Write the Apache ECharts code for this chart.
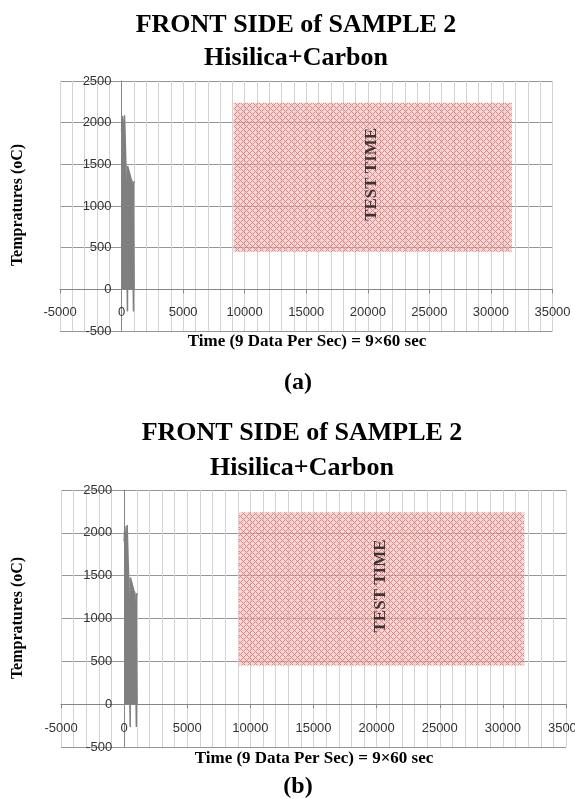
<!DOCTYPE html>
<html>
<head>
<meta charset="utf-8">
<script src="https://cdn.jsdelivr.net/npm/echarts@6/dist/echarts.min.js"></script>
<style>
  html, body { margin: 0; padding: 0; background: #fff; }
  #chart { width: 575px; height: 799px; }
</style>
</head>
<body>
<div id="chart"></div>
<script>
  // readings (time index, temperature in oC)
  const timeIdx = [0, 50, 60, 110, 120, 230, 240, 330, 350, 470, 480, 490, 560, 600, 680, 760, 850, 960, 970, 980, 1080];
  const temps = [1900, 1900, 2080, 2080, 1850, 1860, 2090, 2090, 1500, 1490, -266, 1480, 1480, 1420, 1400, 1330, 1300, 1290, -266, 1290, 1280];
  // axis ranges: min, max, step
  const xRange = [-5000, 35000, 5000];
  const yRange = [-500, 2500, 500];
  // test time box corners and its label position
  const testTimeBox = [[9100, 450], [31700, 2240]];
  const testTimeLabel = [20300, 1380];

  const titleText = 'FRONT SIDE of SAMPLE 2\nHisilica+Carbon';
  const xName = 'Time (9 Data Per Sec) = 9\u00d760 sec';
  const yName = 'Tempratures (oC)';
  const captions = ['(a)', '(b)'];

  const serif = '"Liberation Serif", "DejaVu Serif", serif';
  const sans = '"Liberation Sans", Arial, sans-serif';

  function makePattern() {
    const c = document.createElement('canvas');
    c.width = 6; c.height = 6;
    const ctx = c.getContext('2d');
    ctx.fillStyle = 'rgba(238,178,178,0.55)';
    ctx.fillRect(0, 0, 6, 6);
    ctx.fillStyle = 'rgba(214,80,80,0.6)';
    for (let x = 0; x < 6; x++) {
      for (let y = 0; y < 6; y++) {
        if ((x + y) % 6 === 0 || (x - y + 6) % 6 === 0) ctx.fillRect(x, y, 1, 1);
      }
    }
    return c;
  }
  const pattern = { image: makePattern(), repeat: 'repeat' };

  // panel layouts (pixel boxes)
  const panels = [
    { grid: { left: 60, top: 81, width: 492.5, height: 250 }, titleX: 291, titleTop: 3.5, lineH: 33,
      yNameAt: [18, 205], xNameAt: [307, 342], capAt: [298, 383], xMargin: 17, yMargin: 10 },
    { grid: { left: 61, top: 490, width: 505, height: 257 }, titleX: 297, titleTop: 411, lineH: 35,
      yNameAt: [18, 618], xNameAt: [314, 759], capAt: [298, 787], xMargin: 18, yMargin: 12 }
  ];

  function plain(v) { return String(v); }

  const option = {
    animation: false,
    title: [],
    grid: [],
    xAxis: [],
    yAxis: [],
    series: [],
    graphic: []
  };

  panels.forEach(function (p, i) {
    const g = Object.assign({ outerBoundsMode: 'none', containLabel: false }, p.grid);
    // put each axis line through the other axis's zero
    const xOff = -g.height * (0 - yRange[0]) / (yRange[1] - yRange[0]);
    const yOff = -g.width * (0 - xRange[0]) / (xRange[1] - xRange[0]);
    option.title.push({
      text: titleText,
      left: p.titleX,
      top: p.titleTop,
      textAlign: 'center',
      textStyle: { fontFamily: serif, fontWeight: 'bold', fontSize: 26, color: '#000', lineHeight: p.lineH }
    });
    option.grid.push(g);
    option.xAxis.push({
      type: 'value',
      gridIndex: i,
      position: 'bottom',
      offset: xOff,
      min: xRange[0],
      max: xRange[1],
      interval: xRange[2],
      axisLine: { onZero: false, lineStyle: { color: '#868686', width: 1 } },
      axisTick: { show: true, length: 4, lineStyle: { color: '#868686' } },
      axisLabel: { margin: p.xMargin, fontFamily: sans, fontSize: 13, color: '#333', formatter: plain },
      splitLine: { show: true, lineStyle: { color: '#d3d3d3', width: 1 } },
      minorTick: { show: false, splitNumber: 5 },
      minorSplitLine: { show: true, lineStyle: { color: '#d3d3d3', width: 1 } }
    });
    option.yAxis.push({
      type: 'value',
      gridIndex: i,
      position: 'left',
      offset: yOff,
      min: yRange[0],
      max: yRange[1],
      interval: yRange[2],
      axisLine: { show: true, onZero: false, lineStyle: { color: '#868686', width: 1 } },
      axisTick: { show: false },
      axisLabel: { margin: p.yMargin, fontFamily: sans, fontSize: 13, color: '#333', formatter: plain },
      splitLine: { show: true, lineStyle: { color: '#969696', width: 1 } }
    });
    option.series.push({
      type: 'line',
      xAxisIndex: i,
      yAxisIndex: i,
      data: timeIdx.map(function (t, k) { return [t, temps[k]]; }),
      symbol: 'none',
      silent: true,
      lineStyle: { color: '#7f7f7f', width: 1.5 },
      areaStyle: { color: '#7f7f7f', opacity: 1 },
      markArea: {
        silent: true,
        itemStyle: { color: pattern },
        data: [[{ coord: testTimeBox[0] }, { coord: testTimeBox[1] }]]
      }
    });
    option.series.push({
      type: 'scatter',
      xAxisIndex: i,
      yAxisIndex: i,
      data: [testTimeLabel],
      symbolSize: 0,
      silent: true,
      label: {
        show: true,
        position: 'inside',
        rotate: 90,
        formatter: 'TEST TIME',
        fontFamily: serif,
        fontWeight: 'bold',
        fontSize: 17,
        color: '#111'
      }
    });
    option.graphic.push({
      type: 'text', x: p.yNameAt[0], y: p.yNameAt[1], rotation: Math.PI / 2,
      style: { text: yName, font: 'bold 16px ' + serif, fill: '#000', align: 'center', verticalAlign: 'middle' }
    });
    option.graphic.push({
      type: 'text', x: p.xNameAt[0], y: p.xNameAt[1],
      style: { text: xName, font: 'bold 17px ' + serif, fill: '#000', align: 'center', verticalAlign: 'middle' }
    });
    option.graphic.push({
      type: 'text', x: p.capAt[0], y: p.capAt[1],
      style: { text: captions[i], font: 'bold 24px ' + serif, fill: '#000', align: 'center', verticalAlign: 'middle' }
    });
  });

  const chart = echarts.init(document.getElementById('chart'));
  chart.setOption(option);
  window.addEventListener('resize', function () {
    chart.resize();
  });
</script>
</body>
</html>
